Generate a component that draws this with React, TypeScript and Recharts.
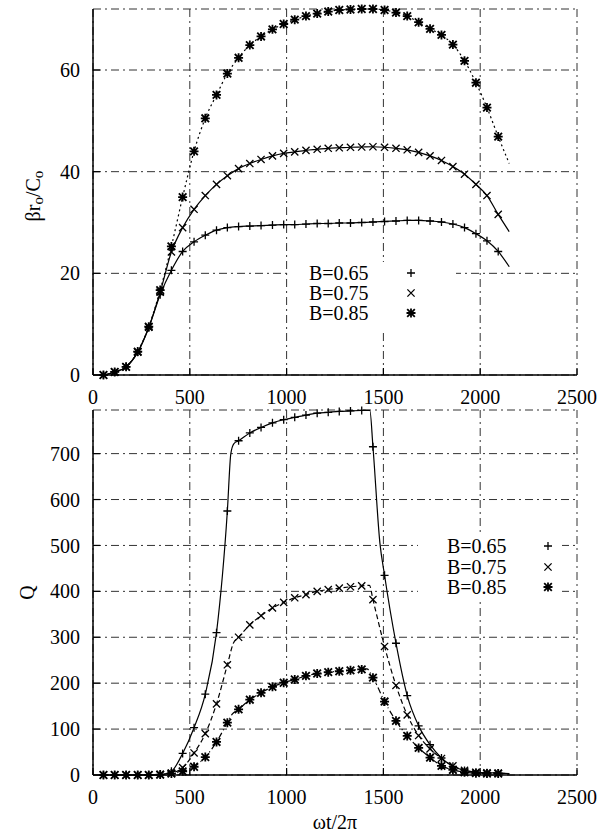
import { LineChart, Line, XAxis, YAxis, CartesianGrid, Legend } from 'recharts';

const seriesNames = ['B=0.65', 'B=0.75', 'B=0.85'];
const xTicks = [0, 500, 1000, 1500, 2000, 2500];
const betaTicks = [0, 20, 40, 60];
const qTicks = [0, 100, 200, 300, 400, 500, 600, 700];

// sample times that carry a marker (same for every curve)
const sampleX = [
  54, 112, 171, 231, 288, 347, 405, 463, 522, 580, 638, 694, 752, 810, 868, 927, 985, 1042,
  1100, 1158, 1215, 1272, 1330, 1388, 1446, 1506, 1565, 1623, 1682, 1741, 1800, 1859, 1919,
  1978, 2035, 2093,
];
const endX = 2150;

// top panel: beta r_o / C_o
const beta065 = [
  0, 0.6, 1.6, 4.5, 9.3, 15.8, 20.6, 24.3, 26.2, 27.5, 28.5, 29, 29.2, 29.3, 29.4, 29.5, 29.6,
  29.6, 29.7, 29.8, 29.8, 29.9, 29.9, 30, 30.1, 30.2, 30.3, 30.4, 30.4, 30.3, 30.1, 29.7, 29.0,
  27.8, 26.4, 24.3,
];
const beta075 = [
  0, 0.6, 1.6, 4.5, 9.4, 16.3, 24.2, 29, 32.6, 35.3, 37.5, 39.2, 40.6, 41.6, 42.4, 43.1, 43.6,
  43.9, 44.2, 44.4, 44.6, 44.7, 44.8, 44.85, 44.9, 44.8, 44.6, 44.3, 43.8, 43.1, 42.2, 41, 39.5,
  37.5, 35.3, 31.6,
];
const beta085 = [
  0, 0.6, 1.6, 4.6, 9.5, 16.7, 25.3, 35, 44, 50.5, 55.1, 59.3, 62.4, 64.9, 66.6, 68, 69.05,
  69.9, 70.6, 71.1, 71.5, 71.8, 71.9, 72, 72, 71.8, 71.3, 70.6, 69.4, 68.1, 66.9, 65, 61.8,
  57.5, 52.6, 46.9,
];
const betaEnd = [21.3, 28.2, 41.6];

// bottom panel: Q
const q065 = [
  0, 0, 0, 0, 0, 0.5, 8, 47, 103, 176, 310, 575, 728, 745, 757, 767, 774, 779, 784, 788, 790,
  792, 793, 794, 715, 435, 287, 173, 107, 66, 37, 19, 10, 6, 5, 4,
];
const q075 = [
  0, 0, 0, 0, 0, 0.5, 4, 16, 48, 90, 155, 240, 300, 327, 347, 364, 376, 386, 393, 400, 404,
  407, 410, 412, 382, 280, 195, 131, 86, 57, 36, 20, 10, 6, 5, 4,
];
const q085 = [
  0, 0, 0, 0, 0, 1, 3, 8, 18, 39, 72, 114, 143, 164, 179, 192, 201, 208, 216, 221, 224, 226,
  228, 230, 212, 160, 118, 85, 59, 38, 20, 11, 6, 4, 3, 3,
];
const qEnd = [3, 3, 2];
// bends of the curves between markers
const q065BendX = [712, 728, 1430, 1482];
const q065Bend = [700, 722, 794, 505];
const q075BendX = [725, 1428];
const q075Bend = [287, 413];
const q085BendX = [718, 1415];
const q085Bend = [132, 231];

type Pt = { x: number; y: number; mark: boolean };
type Kind = 'plus' | 'cross' | 'star';
const KINDS: Kind[] = ['plus', 'cross', 'star'];

function buildSeries(ys: number[], endY: number, bx: number[] = [], by: number[] = []): Pt[] {
  const pts: Pt[] = sampleX.map((x, i) => ({ x, y: ys[i], mark: true }));
  bx.forEach((x, i) => pts.push({ x, y: by[i], mark: false }));
  pts.push({ x: endX, y: endY, mark: false });
  return pts.sort((a, b) => a.x - b.x);
}

const topSeries = [
  buildSeries(beta065, betaEnd[0]),
  buildSeries(beta075, betaEnd[1]),
  buildSeries(beta085, betaEnd[2]),
];
const bottomSeries = [
  buildSeries(q065, qEnd[0], q065BendX, q065Bend),
  buildSeries(q075, qEnd[1], q075BendX, q075Bend),
  buildSeries(q085, qEnd[2], q085BendX, q085Bend),
];

const FONT = '"Liberation Serif", "DejaVu Serif", serif';
const tickStyle = { fill: '#000', fontSize: 20, fontFamily: FONT };
const axisLine = { stroke: '#000', strokeWidth: 1.5 };
const tickLine = { stroke: '#000', strokeWidth: 1.2 };

function Marker({ cx, cy, kind }: { cx: number; cy: number; kind: Kind }) {
  if (cx == null || cy == null) return null;
  if (kind === 'plus') {
    return <path d={`M${cx - 4},${cy}H${cx + 4}M${cx},${cy - 4}V${cy + 4}`} stroke="#000" strokeWidth={1.3} fill="none" />;
  }
  if (kind === 'cross') {
    const r = 3.6;
    return <path d={`M${cx - r},${cy - r}L${cx + r},${cy + r}M${cx - r},${cy + r}L${cx + r},${cy - r}`} stroke="#000" strokeWidth={1.3} fill="none" />;
  }
  const r = 3.8;
  return (
    <path
      d={`M${cx - r},${cy - r}L${cx + r},${cy + r}M${cx - r},${cy + r}L${cx + r},${cy - r}M${cx - 4.5},${cy}H${cx + 4.5}M${cx},${cy - 4.5}V${cy + 4.5}`}
      stroke="#000"
      strokeWidth={1.8}
      fill="none"
    />
  );
}

const dotFor = (kind: Kind) => (p: any) =>
  p.payload && p.payload.mark ? (
    <Marker key={`m${p.index}`} cx={p.cx} cy={p.cy} kind={kind} />
  ) : (
    <g key={`m${p.index}`} />
  );

function LegendBox({ w, h, textX, markX, rows }: { w: number; h: number; textX: number; markX: number; rows: number[] }) {
  return (
    <svg width={w} height={h} style={{ display: 'block', background: '#fff' }}>
      {seriesNames.map((name, i) => (
        <g key={name}>
          <text x={textX} y={rows[i]} dominantBaseline="central" fontSize={20} fontFamily={FONT} fill="#000">
            {name}
          </text>
          <Marker cx={markX} cy={rows[i]} kind={KINDS[i]} />
        </g>
      ))}
    </svg>
  );
}

function BetaTitle(props: any) {
  const vb = props.viewBox || { x: 0, y: 9, width: 93, height: 366 };
  const cx = vb.x + 33;
  const cy = vb.y + vb.height / 2 + 4;
  return (
    <text x={cx} y={cy} transform={`rotate(-90 ${cx} ${cy})`} textAnchor="middle" dominantBaseline="central" fontSize={20} fontFamily={FONT} fill="#000">
      βr<tspan dy={5} fontSize={15}>o</tspan>
      <tspan dy={-5}>/C</tspan>
      <tspan dy={5} fontSize={15}>o</tspan>
    </text>
  );
}

function QTitle(props: any) {
  const vb = props.viewBox || { x: 0, y: 5, width: 93, height: 365 };
  const cx = vb.x + 27;
  const cy = vb.y + vb.height / 2;
  return (
    <text x={cx} y={cy} transform={`rotate(-90 ${cx} ${cy})`} textAnchor="middle" dominantBaseline="central" fontSize={20} fontFamily={FONT} fill="#000">
      Q
    </text>
  );
}

function TimeTitle(props: any) {
  const vb = props.viewBox || { x: 93, y: 370, width: 484, height: 64 };
  return (
    <text x={vb.x + vb.width / 2} y={vb.y + 47} textAnchor="middle" dominantBaseline="central" fontSize={20} fontFamily={FONT} fill="#000">
      ωt/2π
    </text>
  );
}

const gridProps = { stroke: '#333', strokeDasharray: '8 4 2 4', strokeWidth: 1 };

export default function App() {
  const topDash = [undefined, undefined, '2 3'];
  const bottomDash = [undefined, '5 3', '6 3 1 3'];
  return (
    <div style={{ position: 'absolute', left: 0, top: 0, width: 606, height: 839, background: '#fff' }}>
      <div style={{ position: 'absolute', left: 0, top: 0 }}>
        <LineChart width={606} height={410} margin={{ top: 9, right: 29, left: 0, bottom: 0 }}>
          <CartesianGrid {...gridProps} />
          <XAxis type="number" dataKey="x" domain={[0, 2500]} ticks={xTicks} height={35} tick={tickStyle}
            tickSize={-7} tickMargin={22} axisLine={axisLine} tickLine={tickLine} allowDataOverflow />
          <XAxis xAxisId="top" orientation="top" type="number" dataKey="x" domain={[0, 2500]} ticks={xTicks}
            height={0} tick={false} tickSize={-7} axisLine={axisLine} tickLine={tickLine} allowDataOverflow />
          <YAxis type="number" domain={[0, 72]} ticks={betaTicks} width={93} tick={tickStyle} tickSize={-7}
            tickMargin={20} axisLine={axisLine} tickLine={tickLine} label={<BetaTitle />} />
          <YAxis yAxisId="right" orientation="right" type="number" domain={[0, 72]} ticks={betaTicks} width={0}
            tick={false} tickSize={-7} axisLine={axisLine} tickLine={tickLine} />
          <Legend layout="horizontal" verticalAlign="middle" align="center"
            wrapperStyle={{ position: 'absolute', left: 290, top: 262, width: 166, height: 70 }}
            content={() => <LegendBox w={166} h={70} textX={19} markX={121} rows={[11, 31, 51]} />} />
          {topSeries.map((d, i) => (
            <Line key={seriesNames[i]} name={seriesNames[i]} data={d} dataKey="y" type="monotone" stroke="#000"
              strokeWidth={1.2} strokeDasharray={topDash[i]} dot={dotFor(KINDS[i])} activeDot={false}
              isAnimationActive={false} />
          ))}
        </LineChart>
      </div>
      <div style={{ position: 'absolute', left: 0, top: 405 }}>
        <LineChart width={606} height={434} margin={{ top: 5, right: 29, left: 0, bottom: 0 }}>
          <CartesianGrid {...gridProps} />
          <XAxis type="number" dataKey="x" domain={[0, 2500]} ticks={xTicks} height={64} tick={tickStyle}
            tickSize={-7} tickMargin={22} axisLine={axisLine} tickLine={tickLine} allowDataOverflow
            label={<TimeTitle />} />
          <XAxis xAxisId="top" orientation="top" type="number" dataKey="x" domain={[0, 2500]} ticks={xTicks}
            height={0} tick={false} tickSize={-7} axisLine={axisLine} tickLine={tickLine} allowDataOverflow />
          <YAxis type="number" domain={[0, 795]} ticks={qTicks} width={93} tick={tickStyle} tickSize={-7}
            tickMargin={20} axisLine={axisLine} tickLine={tickLine} label={<QTitle />} />
          <YAxis yAxisId="right" orientation="right" type="number" domain={[0, 795]} ticks={qTicks} width={0}
            tick={false} tickSize={-7} axisLine={axisLine} tickLine={tickLine} />
          <Legend layout="horizontal" verticalAlign="middle" align="center"
            wrapperStyle={{ position: 'absolute', left: 418, top: 127, width: 144, height: 66 }}
            content={() => <LegendBox w={144} h={66} textX={29} markX={130} rows={[14, 35, 55]} />} />
          {bottomSeries.map((d, i) => (
            <Line key={seriesNames[i]} name={seriesNames[i]} data={d} dataKey="y" type="monotone" stroke="#000"
              strokeWidth={1.2} strokeDasharray={bottomDash[i]} dot={dotFor(KINDS[i])} activeDot={false}
              isAnimationActive={false} />
          ))}
        </LineChart>
      </div>
    </div>
  );
}
